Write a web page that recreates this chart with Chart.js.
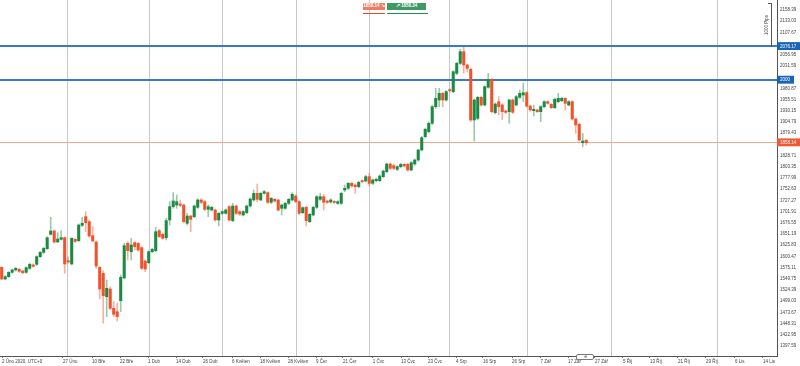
<!DOCTYPE html>
<html><head><meta charset="utf-8">
<script src="https://cdn.jsdelivr.net/npm/chart.js@4.4.1/dist/chart.umd.min.js"></script>
<style>
html,body{margin:0;padding:0;background:#fff;}
#wrap{position:relative;width:800px;height:366px;overflow:hidden;font-family:"Liberation Sans",Arial,sans-serif;}
canvas{display:block;}
.ov{position:absolute;box-sizing:border-box;}
.bb{font-size:4.5px;line-height:6.6px;color:#fff;text-align:center;font-weight:bold;white-space:nowrap;}
</style></head><body>
<div id="wrap">
<canvas id="c" width="800" height="366"></canvas>
<div class="ov bb" style="left:363px;top:3px;width:22px;height:6.6px;background:#ef7d64;">1858.14 &#8600;</div>
<div class="ov bb" style="left:387px;top:3px;width:39px;height:6.6px;background:#3d9a64;">&#8599; 1858.34</div>
<div class="ov" style="left:363px;top:12.5px;width:22px;height:1.5px;background:#e8482a;"></div>
<div class="ov" style="left:387px;top:12.5px;width:41px;height:1.5px;background:#1f8a4c;"></div>
<div class="ov" style="left:771px;top:3px;width:1px;height:44px;background:#555;"></div>
<div class="ov" style="left:768px;top:3px;width:4px;height:1px;background:#555;"></div>
<div class="ov" style="left:754px;top:22px;width:26px;height:6px;font-size:4.5px;line-height:6px;color:#444;text-align:center;transform:rotate(-90deg);">1000 Pips</div>
<div class="ov" style="left:576px;top:354px;width:18px;height:6px;border:1px solid #777;border-radius:2px;background:#fff;font-size:4px;line-height:4px;text-align:center;color:#555;">&#8853;</div>
</div>
<script>
// candle data (daily, XAU)
const openP = [1575.7,1549.3,1554.6,1564.4,1569.7,1571.2,1567.4,1564.4,1573.4,1581,1582.5,1599.9,1609.7,1618,1650.4,1658,1633.1,1639.1,1642.9,1590.8,1583.3,1639.1,1636.1,1670.8,1690.4,1679.1,1647.4,1633.1,1575.7,1562.1,1509.3,1526.6,1482.9,1475.3,1500.2,1551.5,1630.1,1611.2,1631.6,1630.1,1620.2,1590,1586.3,1611.2,1613.5,1658.7,1650.4,1642.9,1682.9,1713.1,1716.8,1719.1,1716.8,1675.3,1691.9,1690.4,1711.6,
1728.2,1724.4,1707,1705.5,1705.5,1682.9,1698,1698,1713.1,1681.4,1714.6,1701.8,1694.2,1699.5,1714.6,1728.2,1743.3,1728.2,1743.3,1744.8,1722.9,1729.7,1728.2,1709.3,1709.3,1720.6,1728.2,1737.2,1724.4,1699.5,1711.6,1679.1,1694.2,1711.6,1729.7,1735.7,1725.9,1723.6,1724.4,1720.6,1720.6,1750.8,1754.6,1765.9,1762.1,1758.4,1771.9,1771.2,1781,1765.9,1771.9,1771.9,1781,1792.3,1809.7,1805.9,1797.6,1803.6,1808.9,1808.9,1796.1,1809.7,
1818.7,1841.4,1871.6,1882.9,1901.8,1939.5,1954.6,1969.7,1954.6,1977.2,1973.5,2015,2037.6,2064,2033.9,2024,1909.3,1913.1,1960.6,1943.3,1983.3,2001.4,1925.9,1950.8,1943.3,1929.7,1928.2,1954.6,1943.3,1960.6,1965.9,1971.2,1941,1930.4,1932,1928.2,1939.5,1950.8,1944.8,1937.2,1950.8,1953.1,1958.4,1943.3,1950.8,1911.6,1899.5,1857.8,1863.3];
const highP = [1577,1556.8,1565.9,1572,1576,1574,1569,1577,1585,1584,1602,1612,1621,1645,1688.9,1660.3,1654.2,1658.7,1645,1599.9,1643,1641,1674,1688.9,1701.8,1682.9,1667.8,1635,1577.2,1568.1,1547,1531.9,1497.9,1494.2,1558.3,1630.1,1633.8,1641.4,1633.8,1632,1623,1592.3,1613,1619,1666.3,1661.7,1653,1686.7,1724.4,1744.8,1739.5,1728.2,1719,1698,1694.2,1717,1731,
1731,1727,1716.8,1714,1708,1700,1704,1708,1716,1720.6,1717,1704,1704,1717,1733,1750.8,1764.4,1746,1750,1747,1734,1732,1730,1719,1723,1732,1744.8,1740,1727,1713,1714,1698,1714,1738,1743.3,1741,1728,1731,1727,1727,1746,1762.1,1768,1768,1765,1771,1774,1784,1788.6,1776,1778,1785,1796,1812,1812,1809,1806,1811,1811,1811,1815,1821,
1843,1872,1891,1905,1943,1981,1981,1972,1976,1980,2021,2040,2069.3,2073.9,2036,2027,1957,1963,1963,1987,2015,2004,1948,1962.1,1946,1932,1957,1957,1965,1977.2,1992.3,1974,1943,1943.3,1934,1942,1953,1953,1947,1959,1969.7,1961,1960,1953,1953,1914,1902,1879.1,1865];
const lowP = [1548,1547,1553.1,1562,1567,1564,1561,1562,1571,1576,1580,1598,1607,1616,1649,1630,1632,1637.6,1562.1,1584.8,1581,1632,1634,1667.8,1656.5,1643.6,1634,1573.4,1504,1449,1464,1480,1464,1454.2,1475.3,1550.8,1592.3,1592.3,1615,1612,1571,1565.9,1584,1609,1611.2,1643.6,1639,1637.6,1671.6,1709.3,1709.3,1713.1,1676,1671.6,1656.5,1688,1709,
1720,1704,1690.4,1703,1680,1669.3,1695,1696,1680,1679,1695,1693,1692,1697,1712,1726,1724.4,1726,1741,1720,1720,1723,1703,1694.2,1707,1718,1726,1722,1695,1697,1669.3,1677,1692,1709,1727,1705.5,1720,1721,1720,1718,1718,1747,1752,1757,1743.3,1756,1767,1769,1759.9,1763,1769,1770,1779,1790,1797,1797,1795,1801,1803,1793,1794,1807,
1816,1839,1869,1880,1899,1936,1939.5,1939.5,1952,1972,1971,2012,2035,2015,2018,1906,1861.8,1910,1940,1941,1981,1925,1923,1920.6,1910,1924,1901.8,1924,1941,1958,1950.8,1938,1929,1918.4,1926,1905.5,1937,1945,1935,1935,1948,1951,1932,1941,1909,1879.1,1861,1849,1852.7];
const closeP = [1549.3,1554.6,1564.4,1569.7,1573.4,1566.6,1563.6,1575,1582.5,1578,1599.9,1609.7,1618.7,1642.9,1658,1633.1,1639.9,1642.9,1583.3,1587.8,1641.4,1634.6,1671.6,1675.3,1676.8,1646.7,1635.3,1578.7,1526.6,1511.5,1528.2,1482.9,1469.3,1464,1553.1,1624.8,1613.5,1626.3,1622.5,1615,1573.4,1571.9,1611.2,1616.5,1656.5,1645.1,1641.4,1681.4,1713.1,1725.9,1724.4,1716.1,1679.1,1691.9,1684.4,1714.6,1728.2,
1722.9,1707,1713.1,1711.6,1682.9,1698,1701.8,1705.5,1682.9,1714.6,1698,1696.5,1701.8,1714.6,1730.4,1743.3,1729.7,1743.3,1747,1722.9,1731.9,1725.9,1705.5,1716.8,1720.6,1729.7,1741,1724.4,1698,1710.8,1681.4,1695.7,1711.6,1735.7,1735.7,1722.9,1722.9,1728.2,1722.9,1724.4,1743.3,1754.6,1765.9,1759.9,1758.4,1768.2,1769.7,1781,1765.9,1773.5,1775,1782.5,1793.8,1809.7,1799.9,1799.9,1803.6,1808.9,1805.2,1796.1,1812.7,1818.8,
1841.4,1869.3,1888.2,1901.8,1939.5,1958.4,1969.7,1954.6,1973.5,1975.7,2018.7,2037.6,2064,2033.9,2026.3,1909.3,1954.6,1960.6,1943.3,1984.8,2001.4,1928.2,1945.5,1939.5,1928.2,1926.7,1954.6,1926.7,1962.1,1969.7,1971.2,1941,1932,1933.5,1928.2,1939.5,1950.8,1947.1,1937.2,1956.1,1958.4,1958.4,1947.1,1950.8,1911.6,1898,1864,1861.8,1858.1];

// axis tick labels
const yTickLabels = ['1397.59','1422.95','1448.31','1473.67','1499.03','1524.39','1549.75','1575.11','1600.47','1625.83','1651.19','1676.55','1701.91','1727.27','1752.63','1777.99','1803.35','1828.71','1879.43','1904.79','1930.15','1955.51','1980.87','2031.59','2056.95','2107.67','2133.03','2158.39'];
const levelLabels = ['2076.17','2000','1858.14'];
const levelColors = ['#1a64b8','#1a64b8','#ee5a36'];
const levelLineColors = ['#3a78bf','#3a78bf','#f4a68c'];
const xTickLabels = ['2 Úno 2020, UTC+0','27 Úno','10 Bře','22 Bře','1 Dub','14 Dub','26 Dub','6 Květen','18 Květen','28 Květen','9 Čer','21 Čer','1 Čvc','13 Čvc','23 Čvc','4 Srp','16 Srp','26 Srp','7 Zář','17 Zář','27 Zář','5 Říj','13 Říj','21 Říj','29 Říj','6 Lis','14 Lis'];
const xTickAt = [0.1,17.5,25.8,33.8,41.8,49.8,57.5,65.8,73.8,81.8,89.8,97.5,106,114.1,121.8,129.8,137.5,145.8,153.9,161.8,169.5,177.5,185.2,193.2,201.2,209.5,217.5];
const monthLineAt = [18.94,42.09,62.94,84.09,105.2,127.8,150.1,174.1,204.6];

const UP = '#1b8a43', DOWN = '#f0522b', UPW = 'rgba(27,138,67,0.45)', DOWNW = 'rgba(240,82,43,0.45)';
const isUp = i => closeP[i] >= openP[i];
const wicks = closeP.map((c,i)=>({x:i, y:[lowP[i], highP[i]]}));
const bodies = closeP.map((c,i)=>({x:i, y:[openP[i], c]}));

const levelVals = levelLabels.map(Number);
const xLabelMap = new Map(xTickAt.map((v,i)=>[v, xTickLabels[i]]));
const monthSet = new Set(monthLineAt);
const levelIdx = v => levelVals.findIndex(l => Math.abs(l - v) < 1e-6);

Chart.defaults.font.family = '"Liberation Sans", Arial, sans-serif';
Chart.defaults.font.size = 4.5;
Chart.defaults.color = '#444';

new Chart(document.getElementById('c'), {
  type: 'bar',
  data: { datasets: [
    { data: wicks, grouped: false, order: 2, barThickness: 1,
      backgroundColor: ctx => isUp(ctx.dataIndex) ? UPW : DOWNW },
    { data: bodies, grouped: false, order: 1, barThickness: 2.4, minBarLength: 1,
      backgroundColor: ctx => isUp(ctx.dataIndex) ? UP : DOWN }
  ]},
  options: {
    responsive: false, animation: false, devicePixelRatio: 1,
    layout: { padding: 0 },
    plugins: { legend: { display: false }, tooltip: { enabled: false } },
    scales: {
      x: {
        type: 'linear', min: -0.486, max: 221.5, offset: false,
        afterBuildTicks: s => { s.ticks = [...new Set([...xTickAt, ...monthLineAt])].sort((a,b)=>a-b).map(v=>({value:v})); },
        afterFit: s => { s.height = 10; s.paddingLeft = 0; s.paddingRight = 0; },
        ticks: { autoSkip: false, maxRotation: 0, minRotation: 0, align: 'start', padding: 1.5, color: '#444',
          callback: v => xLabelMap.has(v) ? xLabelMap.get(v) : '' },
        grid: { drawOnChartArea: true, offset: false, tickLength: 2,
          color: c => (c.tick && monthSet.has(c.tick.value)) ? '#c8c8c8' : 'rgba(0,0,0,0)',
          tickColor: c => (c.tick && xLabelMap.has(c.tick.value)) ? '#777' : 'rgba(0,0,0,0)',
          lineWidth: 1 },
        border: { display: true, color: '#555', width: 1 }
      },
      y: {
        position: 'right', min: 1374.95, max: 2181.03,
        afterBuildTicks: s => { s.ticks = [...yTickLabels.map(Number), ...levelVals].sort((a,b)=>a-b).map(v=>({value:v})); },
        afterFit: s => { s.width = 23; s.paddingTop = 0; s.paddingBottom = 0; },
        ticks: { autoSkip: false, padding: 1, crossAlign: 'near',
          callback: v => { const k = levelIdx(v); return k >= 0 ? levelLabels[k] : v.toFixed(2); },
          color: c => levelIdx(c.tick.value) >= 0 ? '#fff' : '#444',
          showLabelBackdrop: c => levelIdx(c.tick.value) >= 0,
          backdropColor: c => { const k = levelIdx(c.tick.value); return k >= 0 ? levelColors[k] : 'rgba(0,0,0,0)'; },
          backdropPadding: { left: 3, right: 4, top: 1.5, bottom: 1 } },
        grid: { drawOnChartArea: true, tickLength: 2,
          color: c => { const k = c.tick ? levelIdx(c.tick.value) : -1; return k >= 0 ? levelLineColors[k] : 'rgba(0,0,0,0)'; },
          lineWidth: c => { const k = c.tick ? levelIdx(c.tick.value) : -1; return k < 0 ? 0 : (k < 2 ? 2 : 1); },
          tickColor: '#888' },
        border: { display: true, color: '#555', width: 1 }
      }
    }
  }
});
</script>
</body></html>
